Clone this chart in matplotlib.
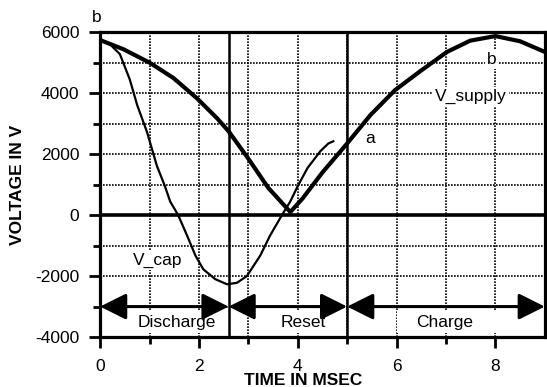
import numpy as np
import matplotlib.pyplot as plt
from matplotlib.patches import Rectangle

plt.rcParams['font.family'] = ['Liberation Sans', 'DejaVu Sans']
plt.rcParams['axes.unicode_minus'] = False

# V_supply (thick line)
t_supply = [0, 0.47, 1.0, 1.48, 1.96, 2.37, 2.6, 3.0, 3.4, 3.85, 4.1, 4.5,
            4.99, 5.47, 5.97, 6.48, 7.02, 7.49, 8.0, 8.5, 9.0]
v_supply = [5740, 5440, 5000, 4500, 3830, 3170, 2750, 1850, 900, 100, 550, 1400,
            2330, 3280, 4100, 4720, 5350, 5720, 5870, 5700, 5350]

# V_cap (thin line)
t_cap = [0, 0.2, 0.4, 0.6, 0.75, 0.95, 1.15, 1.3, 1.42, 1.58, 1.76, 1.93, 2.09,
         2.33, 2.57, 2.77, 2.97, 3.24, 3.44, 3.68, 3.85, 4.0, 4.2, 4.46, 4.62, 4.72]
v_cap = [5750, 5600, 5280, 4450, 3610, 2720, 1610, 1000, 440, 0, -670, -1330, -1780,
         -2100, -2270, -2220, -2000, -1330, -670, 0, 450, 950, 1550, 2100, 2350, 2420]

# phases
phase_edges = [0, 2.6, 5.0, 9.0]
phase_names = ['Discharge', 'Reset', 'Charge']
phase_label_x = [1.56, 4.12, 6.98]
phase_box = [(0.5, 2.58), (3.1, 4.96), (6.0, 8.05)]

fig = plt.figure(figsize=(5.47, 3.87), dpi=100)
ax = fig.add_axes([0.183, 0.129, 0.813, 0.788])

fs = 12.5
ax.set_xlim(0, 9)
ax.set_ylim(-4000, 6000)
ax.set_xticks([0, 2, 4, 6, 8])
ax.set_xticks([1, 3, 5, 7], minor=True)
ax.set_yticks(np.arange(-4000, 6001, 2000))
ax.set_yticks(np.arange(-3000, 6000, 2000), minor=True)
ax.tick_params(which='major', direction='out', length=8, width=2, labelsize=fs, pad=7)
ax.tick_params(which='minor', direction='out', length=5, width=2)
ax.tick_params(axis='x', which='major', pad=8)
for s in ax.spines.values():
    s.set_linewidth(2.3)

ax.grid(True, which='both', color='black', linestyle=(0, (1, 0.8)), linewidth=1.2, zorder=1)
ax.set_axisbelow(True)

# white label boxes over the grid
for (a, b) in phase_box:
    ax.add_patch(Rectangle((a, -3880), b - a, 740, facecolor='white', edgecolor='none', zorder=2))

# solid reference lines
ax.axhline(0, color='black', linewidth=2.6, zorder=3)
for xe in phase_edges[1:3]:
    ax.axvline(xe, color='black', linewidth=1.8, zorder=3)

# phase arrows
for i in range(3):
    ax.annotate('', xy=(phase_edges[i + 1], -3000), xytext=(phase_edges[i], -3000),
                arrowprops=dict(arrowstyle='<|-|>,head_length=0.8,head_width=0.4',
                                color='black', lw=2.2, mutation_scale=20,
                                shrinkA=0, shrinkB=0), zorder=4)
    ax.text(phase_label_x[i], -3530, phase_names[i], ha='center', va='center',
            fontsize=fs, zorder=5)

ax.plot(t_supply, v_supply, color='black', linewidth=3.0, zorder=4,
        solid_capstyle='round', solid_joinstyle='round')
ax.plot(t_cap, v_cap, color='black', linewidth=1.6, zorder=4)

wb = dict(facecolor='white', edgecolor='none', pad=1.5)
ax.text(7.5, 3880, 'V_supply', ha='center', va='center', fontsize=fs, bbox=wb, zorder=5)
ax.text(7.92, 5100, 'b', ha='center', va='center', fontsize=fs, bbox=wb, zorder=5)
ax.text(5.47, 2520, 'a', ha='center', va='center', fontsize=fs, bbox=wb, zorder=5)
ax.text(1.16, -1500, 'V_cap', ha='center', va='center', fontsize=fs, bbox=wb, zorder=5)
ax.text(-0.06, 6480, 'b', ha='center', va='center', fontsize=fs, clip_on=False)

ax.set_xlabel('TIME IN MSEC', fontsize=fs, fontweight='bold')
ax.xaxis.set_label_coords(0.456, -0.118)
ax.set_ylabel('VOLTAGE IN V', fontsize=fs, fontweight='bold')
ax.yaxis.set_label_coords(-0.17, 0.5)

fig.savefig('out.png', dpi=100)
